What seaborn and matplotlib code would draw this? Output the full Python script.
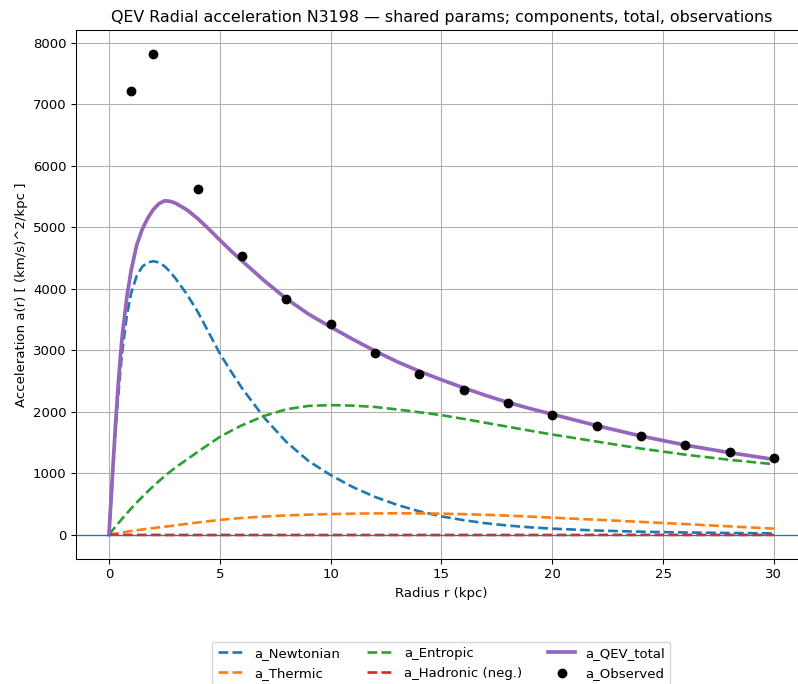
import numpy as np
import pandas as pd
import matplotlib
matplotlib.use("Agg")
import matplotlib.pyplot as plt
import seaborn as sns

# ---- data ----
r_model = [0, 0.1, 0.2, 0.3, 0.4, 0.5, 0.6, 0.8, 1.0, 1.25, 1.5, 1.75, 2.0, 2.25,
           2.5, 2.75, 3.0, 3.5, 4.0, 4.5, 5.0, 5.5, 6.0, 7.0, 8.0, 9.0, 10.0, 11.0,
           12.0, 13.0, 14.0, 15.0, 16.0, 17.0, 18.0, 19.0, 20.0, 22.0, 24.0, 26.0,
           28.0, 30.0]

a_newtonian = [0, 580, 1150, 1690, 2180, 2610, 2980, 3550, 3930, 4210, 4360, 4430,
               4450, 4430, 4370, 4280, 4170, 3920, 3630, 3290, 2950, 2660, 2385,
               1905, 1510, 1200, 970, 775, 615, 485, 380, 298, 236, 186, 148, 120,
               98, 68, 48, 36, 27, 21]

a_thermic = [0, 5, 11, 17, 23, 30, 36, 48, 60, 72, 84, 96, 107, 118, 129, 140, 152,
             175, 198, 220, 240, 257, 272, 296, 313, 326, 335, 342, 346, 348, 346,
             342, 334, 323, 310, 294, 277, 243, 208, 172, 135, 98]

a_entropic = [0, 45, 90, 134, 177, 220, 262, 345, 425, 522, 615, 704, 789, 870, 948,
              1022, 1092, 1220, 1345, 1470, 1590, 1688, 1780, 1932, 2040, 2095, 2108,
              2100, 2078, 2038, 1992, 1945, 1884, 1820, 1756, 1692, 1630, 1515,
              1402, 1302, 1218, 1147]

a_hadronic = [0, -1, -1, -2, -2, -2, -3, -3, -3, -4, -4, -4, -4, -4, -5, -5, -5,
              -5, -5, -5, -5, -5, -5, -5, -5, -5, -5, -5, -5, -5, -5, -5, -5, -5,
              -5, -5, -5, -4, -4, -4, -4, -4]

a_qev_total = [0, 620, 1230, 1820, 2360, 2840, 3240, 3850, 4300, 4710, 4970, 5150,
               5290, 5385, 5432, 5425, 5395, 5290, 5145, 4975, 4795, 4620, 4455,
               4135, 3840, 3590, 3380, 3180, 2990, 2815, 2660, 2520, 2390, 2265,
               2152, 2052, 1960, 1775, 1605, 1458, 1335, 1225]

r_obs = [1, 2, 4, 6, 8, 10, 12, 14, 16, 18, 20, 22, 24, 26, 28, 30]
a_obs = [7220, 7820, 5620, 4535, 3830, 3428, 2955, 2622, 2362, 2145, 1945, 1775,
         1602, 1465, 1345, 1250]

title = "QEV Radial acceleration N3198 \u2014 shared params; components, total, observations"

# ---- figure ----
fig = plt.figure(figsize=(8.4, 7.2), dpi=95)
ax = fig.add_axes([0.0949, 0.1827, 0.9165, 0.7734])

series = [
    (a_newtonian, "a_Newtonian", "C0", "--", 2.0),
    (a_thermic, "a_Thermic", "C1", "--", 2.0),
    (a_entropic, "a_Entropic", "C2", "--", 2.0),
    (a_hadronic, "a_Hadronic (neg.)", "C3", "--", 2.0),
    (a_qev_total, "a_QEV_total", "C4", "-", 2.8),
]
for vals, lab, col, ls, lw in series:
    sns.lineplot(x=r_model, y=vals, ax=ax, label=lab, color=col,
                 linestyle=ls, linewidth=lw, sort=False)

sns.scatterplot(x=r_obs, y=a_obs, ax=ax, color="black", s=55, linewidth=0,
                label="a_Observed", zorder=5)

ax.axhline(0, color="C0", linewidth=1)

ax.set_title(title, fontsize=12)
ax.set_xlabel("Radius r (kpc)")
ax.set_ylabel("Acceleration a(r) [ (km/s)^2/kpc ]")
ax.grid(True)
ax.legend(loc="upper center", bbox_to_anchor=(0.5, -0.144), ncol=3)

fig.savefig("out.png", dpi=95)
